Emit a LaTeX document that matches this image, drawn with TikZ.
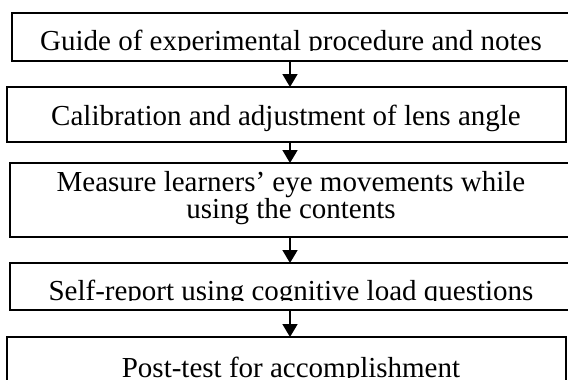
\documentclass[tikz,border=0pt]{standalone}
\usepackage{fontspec}
\setmainfont{Liberation Serif}
\usetikzlibrary{arrows.meta}
\tikzset{
  stepbox/.style={draw=black, line width=1.8pt, rectangle, inner sep=0pt, outer sep=0pt},
  flowarrow/.style={line width=1.8pt, -{Triangle[width=15pt,length=13pt]}},
  label/.style={inner sep=0pt, outer sep=0pt, font=\fontsize{29}{20}\selectfont}
}
\begin{document}
\begin{tikzpicture}[x=1pt,y=-1pt]
\useasboundingbox (0,0) rectangle (568,380);
\fill[white] (0,0) rectangle (568,380);

% common vertical line of the arrows
\coordinate (ax) at (290,0);

% process boxes (some run past the right and bottom page edges)
\node[stepbox, minimum width=568pt, minimum height=48pt] (b1) at (296,37) {};
\node[stepbox, minimum width=559pt, minimum height=55pt] (b2) at (286.5,114.5) {};
\node[stepbox, minimum width=570pt, minimum height=74pt] (b3) at (295,200) {};
\node[stepbox, minimum width=570pt, minimum height=47pt] (b4) at (295,286.5) {};
\node[stepbox, minimum width=559pt, minimum height=63pt] (b5) at (286.5,368.5) {};

% box texts; the lower part of some lines is cut off
\begin{scope}
  \clip (0,0) rectangle (568,50.5);
  \node[label, anchor=base] (t1) at (291,50) {Guide of experimental procedure and notes};
\end{scope}
\node[label, anchor=base] (t2) at (286,125) {Calibration and adjustment of lens angle};
\node[label, align=center] (t3) at (291,198) {Measure learners’ eye movements while\\using the contents};
\begin{scope}
  \clip (0,0) rectangle (568,300.5);
  \node[label, anchor=base] (t4) at (291,300) {Self-report using cognitive load questions};
\end{scope}
\begin{scope}
  \clip (0,0) rectangle (568,377.5);
  \node[label, anchor=base] (t5) at (291,377) {Post-test for accomplishment};
\end{scope}

% connectors
\draw[flowarrow] (b1.south -| ax) -- (b2.north -| ax);
\draw[flowarrow] (b2.south -| ax) -- (b3.north -| ax);
\draw[flowarrow] (b3.south -| ax) -- (b4.north -| ax);
\draw[flowarrow] (b4.south -| ax) -- (b5.north -| ax);
\end{tikzpicture}
\end{document}
